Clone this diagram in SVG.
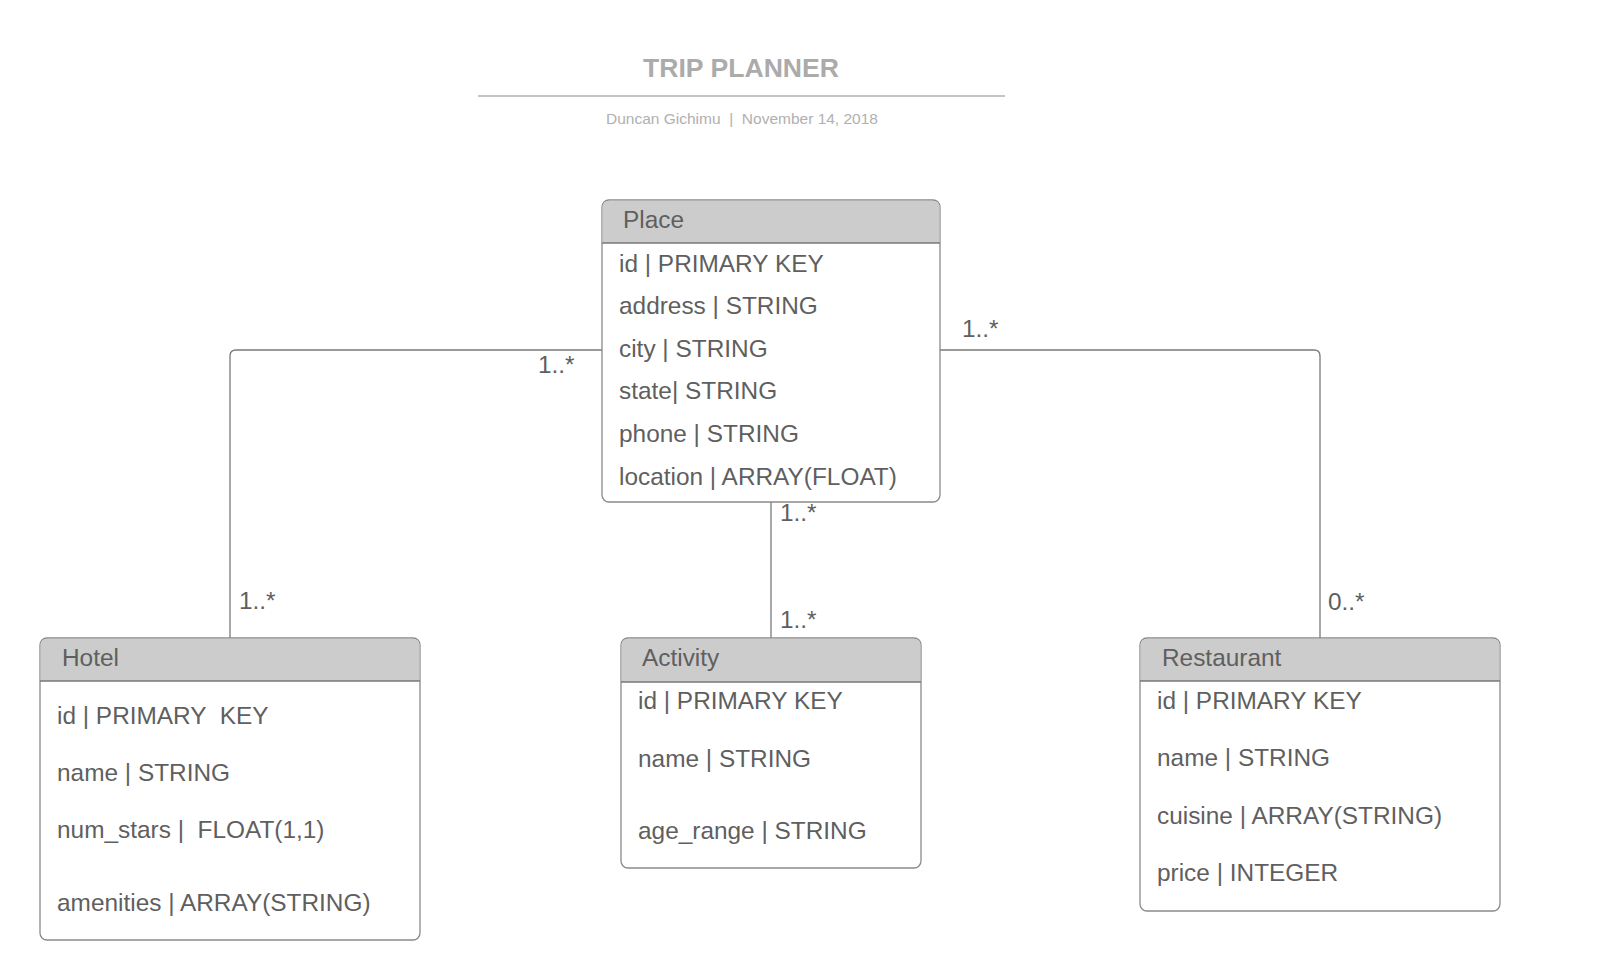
<svg xmlns="http://www.w3.org/2000/svg" width="1620" height="980" viewBox="0 0 1620 980">
<style>
text{font-family:"Liberation Sans",Arial,sans-serif;fill:#5f5f5f;font-size:24.4px}
.box{fill:#fff;stroke:#8a8a8a;stroke-width:1.3}
.hdr{fill:#cccccc;stroke:none}
.sep{stroke:#777;stroke-width:1.3}
.conn{fill:none;stroke:#7a7a7a;stroke-width:1.3}
.title{font-size:26.6px;font-weight:bold;fill:#ababab}
.sub{font-size:15.5px;fill:#b0b0b0}
</style>
<rect width="1620" height="980" fill="#fff"/>
<g id="title">
<text class="title" x="741" y="77" text-anchor="middle">TRIP PLANNER</text>
<line x1="478" y1="96" x2="1005" y2="96" stroke="#b0b0b0" stroke-width="1.5"/>
<text class="sub" x="742" y="124" text-anchor="middle" xml:space="preserve">Duncan Gichimu  |  November 14, 2018</text>
</g>
<g id="connectors">
<path class="conn" d="M602 350 H236 Q230 350 230 356 V638"/>
<path class="conn" d="M940 350 H1314 Q1320 350 1320 356 V638"/>
<path class="conn" d="M771 502 V638"/>
<text x="538" y="373">1..*</text>
<text x="962" y="337">1..*</text>
<text x="239" y="609">1..*</text>
<text x="780" y="521">1..*</text>
<text x="780" y="628">1..*</text>
<text x="1328" y="610">0..*</text>
</g>
<g id="place">
<rect class="box" x="602" y="200" width="338" height="302" rx="7"/>
<path class="hdr" d="M609 200.7 H933 Q939.3 200.7 939.3 207 V243 H602.7 V207 Q602.7 200.7 609 200.7 Z"/>
<line class="sep" x1="602" y1="243" x2="940" y2="243"/>
<text x="623" y="228">Place</text>
<text x="619" y="272">id | PRIMARY KEY</text>
<text x="619" y="314">address | STRING</text>
<text x="619" y="357">city | STRING</text>
<text x="619" y="399">state| STRING</text>
<text x="619" y="442">phone | STRING</text>
<text x="619" y="485">location | ARRAY(FLOAT)</text>
</g>
<g id="hotel">
<rect class="box" x="40" y="638" width="380" height="302" rx="7"/>
<path class="hdr" d="M47 638.7 H413 Q419.3 638.7 419.3 645 V681 H40.7 V645 Q40.7 638.7 47 638.7 Z"/>
<line class="sep" x1="40" y1="681" x2="420" y2="681"/>
<text x="62" y="666">Hotel</text>
<text x="57" y="724" xml:space="preserve">id | PRIMARY  KEY</text>
<text x="57" y="781">name | STRING</text>
<text x="57" y="838" xml:space="preserve">num_stars |  FLOAT(1,1)</text>
<text x="57" y="911">amenities | ARRAY(STRING)</text>
</g>
<g id="activity">
<rect class="box" x="621" y="638" width="300" height="230" rx="7"/>
<path class="hdr" d="M628 638.7 H914 Q920.3 638.7 920.3 645 V682 H621.7 V645 Q621.7 638.7 628 638.7 Z"/>
<line class="sep" x1="621" y1="682" x2="921" y2="682"/>
<text x="642" y="666">Activity</text>
<text x="638" y="709">id | PRIMARY KEY</text>
<text x="638" y="767">name | STRING</text>
<text x="638" y="839">age_range | STRING</text>
</g>
<g id="restaurant">
<rect class="box" x="1140" y="638" width="360" height="273" rx="7"/>
<path class="hdr" d="M1147 638.7 H1493 Q1499.3 638.7 1499.3 645 V681 H1140.7 V645 Q1140.7 638.7 1147 638.7 Z"/>
<line class="sep" x1="1140" y1="681" x2="1500" y2="681"/>
<text x="1162" y="666">Restaurant</text>
<text x="1157" y="709">id | PRIMARY KEY</text>
<text x="1157" y="766">name | STRING</text>
<text x="1157" y="824">cuisine | ARRAY(STRING)</text>
<text x="1157" y="881">price | INTEGER</text>
</g>
</svg>
